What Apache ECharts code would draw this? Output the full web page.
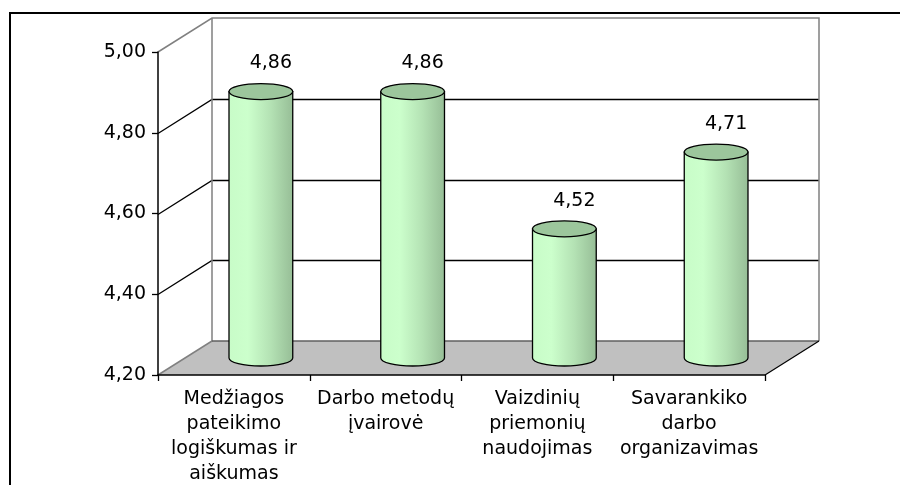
<!DOCTYPE html>
<html>
<head>
<meta charset="utf-8">
<script src="https://cdn.jsdelivr.net/npm/echarts@6/dist/echarts.min.js"></script>
<style>
  html, body { margin: 0; padding: 0; background: #fff; }
  #chart { width: 900px; height: 485px; }
</style>
</head>
<body>
<div id="chart"></div>
<script>
//kategorijos
var categories = [
    'Medžiagos\npateikimo\nlogiškumas ir\naiškumas',
    'Darbo metodų\nįvairovė',
    'Vaizdinių\npriemonių\nnaudojimas',
    'Savarankiko\ndarbo\norganizavimas'
];
//vidurkiai
var values = [4.86, 4.86, 4.52, 4.71];
//ašies padalos
var yTicks = [4.2, 4.4, 4.6, 4.8, 5.0];

//3D gylis (galinė siena paslinkta)
var DX = 54, DY = -34;
var FONT = '19px "DejaVu Sans", sans-serif';

function fmt(v) {
    return v.toFixed(2).replace('.', ',');
}

//rėmas: grindys, galinė siena, tinklelis
function renderFrame(params, api) {
    var cs = params.coordSys;
    var x0 = cs.x, x1 = cs.x + cs.width;
    var yb = api.coord([0, yTicks[0]])[1];
    var yt = api.coord([0, yTicks[yTicks.length - 1]])[1];
    var gray = '#808080';
    var children = [];
    //grindys
    children.push({
        type: 'polygon',
        shape: { points: [[x0, yb], [x1, yb], [x1 + DX, yb + DY], [x0 + DX, yb + DY]] },
        style: { fill: '#c0c0c0', stroke: null }
    });
    //tinklelio linijos
    for (var i = 1; i < yTicks.length - 1; i++) {
        var y = Math.round(api.coord([0, yTicks[i]])[1]) + 0.5;
        children.push({
            type: 'polyline',
            shape: { points: [[x0, y], [x0 + DX, y + DY], [x1 + DX, y + DY]] },
            style: { stroke: '#000', lineWidth: 1.3, fill: null }
        });
    }
    //sienų kraštai
    children.push({
        type: 'polyline',
        shape: { points: [[x0, yt], [x0 + DX, yt + DY], [x1 + DX, yt + DY], [x1 + DX, yb + DY]] },
        style: { stroke: gray, lineWidth: 1.5, fill: null }
    });
    children.push({
        type: 'polyline',
        shape: { points: [[x0, yb], [x0 + DX, yb + DY], [x0 + DX, yt + DY]] },
        style: { stroke: gray, lineWidth: 1.5, fill: null }
    });
    children.push({
        type: 'line',
        shape: { x1: x0 + DX, y1: yb + DY, x2: x1 + DX, y2: yb + DY },
        style: { stroke: '#606060', lineWidth: 1.5 }
    });
    children.push({
        type: 'line',
        shape: { x1: x1, y1: yb, x2: x1 + DX, y2: yb + DY },
        style: { stroke: '#000', lineWidth: 1.2 }
    });
    return { type: 'group', children: children };
}

//cilindras
function renderCylinder(params, api) {
    var idx = api.value(0);
    var val = api.value(1);
    var top = api.coord([idx, val]);
    var bot = api.coord([idx, yTicks[0]]);
    var r = api.size([1, 0])[0] * 0.21;
    var ry = 8;
    var cx = top[0] + DX / 2;
    var ty = top[1] + DY / 2;
    var by = bot[1] + DY / 2;
    var body = 'M' + (cx - r) + ' ' + ty + ' L' + (cx - r) + ' ' + by +
        ' A' + r + ' ' + ry + ' 0 0 0 ' + (cx + r) + ' ' + by +
        ' L' + (cx + r) + ' ' + ty + ' Z';
    var cap = 'M' + (cx - r) + ' ' + ty +
        ' A' + r + ' ' + ry + ' 0 0 1 ' + (cx + r) + ' ' + ty +
        ' A' + r + ' ' + ry + ' 0 0 1 ' + (cx - r) + ' ' + ty + ' Z';
    return {
        type: 'group',
        children: [{
            type: 'path',
            shape: { pathData: body },
            style: {
                fill: new echarts.graphic.LinearGradient(0, 0, 1, 0, [
                    { offset: 0, color: '#c8fcc8' },
                    { offset: 0.3, color: '#ccffcc' },
                    { offset: 0.65, color: '#b4e2b4' },
                    { offset: 1, color: '#96bd96' }
                ]),
                stroke: '#000',
                lineWidth: 1.3
            }
        }, {
            type: 'path',
            shape: { pathData: cap },
            style: { fill: '#9cc69c', stroke: '#000', lineWidth: 1.3 }
        }, {
            type: 'text',
            style: {
                text: fmt(val),
                x: cx + 10,
                y: ty - 28,
                fill: '#000',
                font: FONT,
                align: 'center',
                verticalAlign: 'middle'
            }
        }]
    };
}

var chart = echarts.init(document.getElementById('chart'));
var barData = values.map(function (v, i) { return [i, v]; });

chart.setOption({
    animation: false,
    backgroundColor: '#fff',
    textStyle: { fontFamily: '"DejaVu Sans", sans-serif' },
    graphic: [{
        type: 'rect',
        shape: { x: 10, y: 13, width: 900, height: 500 },
        style: { fill: null, stroke: '#000', lineWidth: 2 },
        silent: true
    }],
    grid: {
        left: 158,
        right: 135,
        top: 52,
        bottom: 110,
        outerBoundsMode: 'none'
    },
    xAxis: {
        type: 'category',
        data: categories,
        boundaryGap: true,
        z: 5,
        axisLine: { show: true, lineStyle: { color: '#000', width: 1.5 } },
        axisTick: { show: true, length: 6, lineStyle: { color: '#000', width: 1.3 } },
        axisLabel: {
            interval: 0,
            margin: 12,
            color: '#000',
            fontSize: 19,
            lineHeight: 25,
            fontFamily: '"DejaVu Sans", sans-serif'
        },
        splitLine: { show: false }
    },
    yAxis: {
        type: 'value',
        min: 4.2,
        max: 5.0,
        interval: 0.2,
        z: 5,
        axisLine: { show: true, lineStyle: { color: '#000', width: 1.5 } },
        axisTick: { show: true, length: 6, lineStyle: { color: '#000', width: 1.3 } },
        axisLabel: {
            margin: 12,
            color: '#000',
            fontSize: 19,
            fontFamily: '"DejaVu Sans", sans-serif',
            formatter: function (v) { return fmt(v); }
        },
        splitLine: { show: false }
    },
    series: [{
        type: 'custom',
        name: 'frame',
        renderItem: renderFrame,
        data: [[0, yTicks[0]]],
        z: 1,
        silent: true
    }, {
        type: 'custom',
        name: 'vidurkis',
        renderItem: renderCylinder,
        data: barData,
        encode: { x: 0, y: 1 },
        z: 2
    }]
});
</script>
</body>
</html>
